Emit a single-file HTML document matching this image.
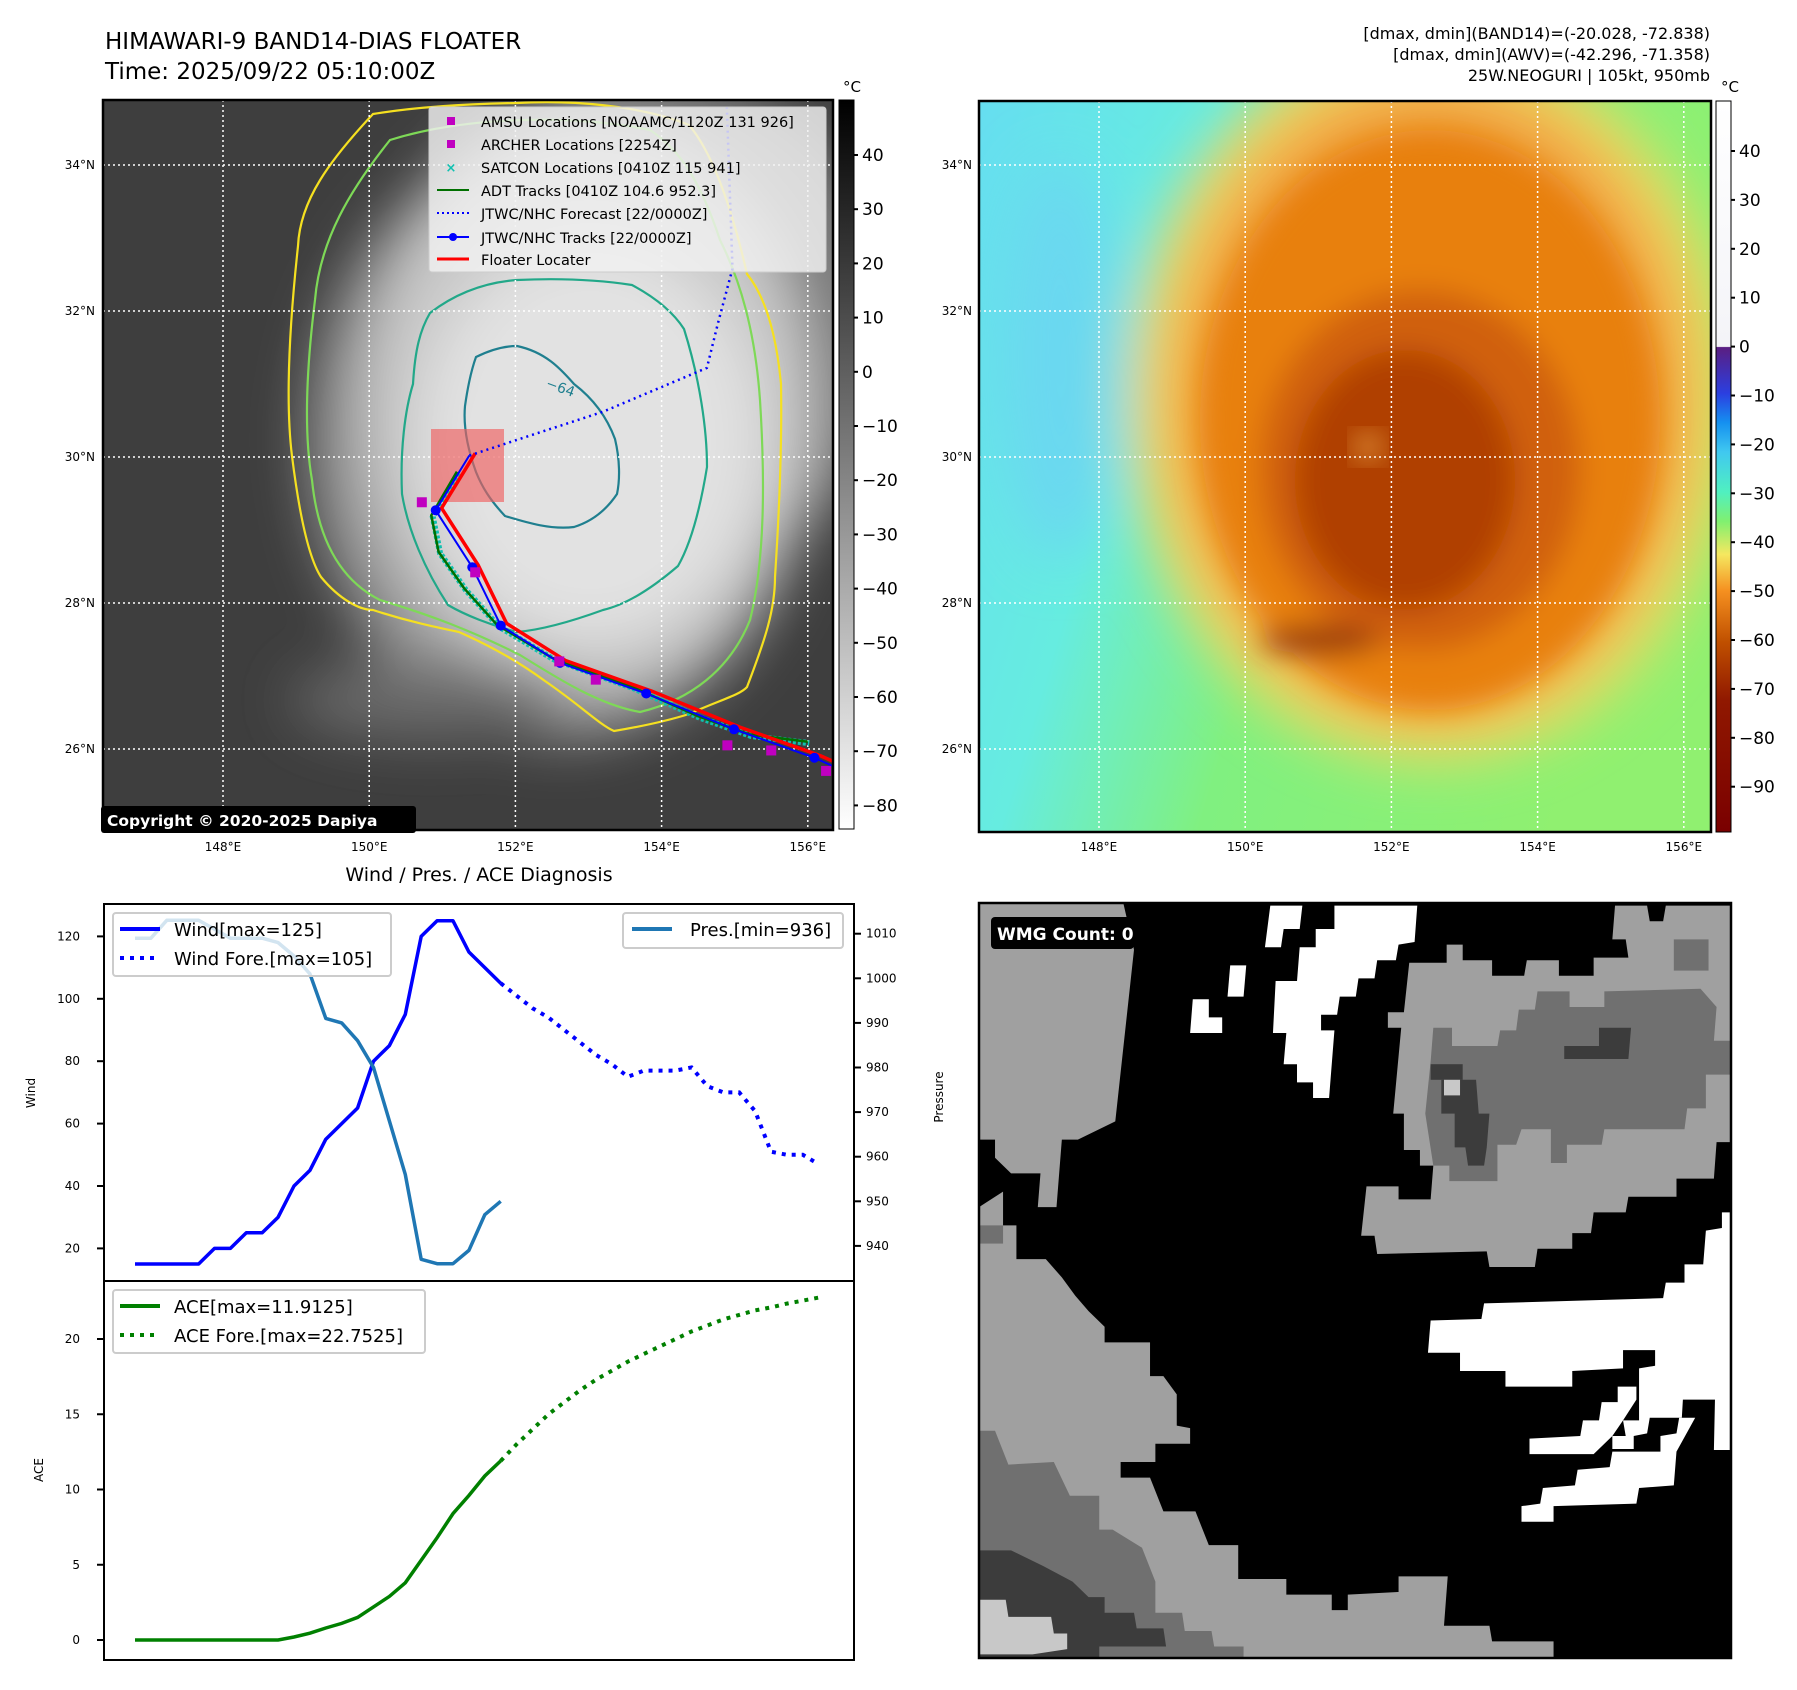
<!DOCTYPE html>
<html><head><meta charset="utf-8">
<style>
html,body{margin:0;padding:0;background:#fff;}
body{width:1797px;height:1690px;position:relative;overflow:hidden;font-family:"DejaVu Sans","Liberation Sans",sans-serif;}
svg{position:absolute;left:0;top:0;}
</style></head>
<body>
<svg id="fig" width="1797" height="1690" viewBox="0 0 1797 1690" xmlns="http://www.w3.org/2000/svg" font-family="DejaVu Sans, Liberation Sans, sans-serif">
<defs>
  <filter id="blur1" x="-30%" y="-30%" width="160%" height="160%"><feGaussianBlur stdDeviation="28"/></filter>
  <filter id="blur2" x="-30%" y="-30%" width="160%" height="160%"><feGaussianBlur stdDeviation="14"/></filter>
  <clipPath id="clip1"><rect x="103" y="100" width="730" height="730"/></clipPath>
  <clipPath id="clip2"><rect x="979" y="101" width="732" height="731"/></clipPath>
  <linearGradient id="cb1" x1="0" y1="0" x2="0" y2="1">
    <stop offset="0" stop-color="#000"/><stop offset="1" stop-color="#fff"/>
  </linearGradient>
  <linearGradient id="cb2" x1="0" y1="0" x2="0" y2="1">
    <stop offset="0" stop-color="#ffffff"/>
    <stop offset="0.336" stop-color="#f4f4f8"/>
    <stop offset="0.337" stop-color="#5a1e82"/>
    <stop offset="0.40" stop-color="#2b3fe0"/>
    <stop offset="0.44" stop-color="#1590f0"/>
    <stop offset="0.48" stop-color="#40c8f0"/>
    <stop offset="0.535" stop-color="#50f0c0"/>
    <stop offset="0.575" stop-color="#80f070"/>
    <stop offset="0.62" stop-color="#f5e860"/>
    <stop offset="0.67" stop-color="#f59020"/>
    <stop offset="0.74" stop-color="#c05000"/>
    <stop offset="0.82" stop-color="#901800"/>
    <stop offset="1" stop-color="#7a0000"/>
  </linearGradient>
  <linearGradient id="bg2" x1="0" y1="0" x2="1" y2="0.3">
    <stop offset="0" stop-color="#66def0"/><stop offset="0.3" stop-color="#66ece0"/><stop offset="0.55" stop-color="#80f080"/><stop offset="1" stop-color="#90f070"/>
  </linearGradient>
</defs>

<!-- Titles -->
<text x="105" y="49" font-size="23">HIMAWARI-9 BAND14-DIAS FLOATER</text>
<text x="105" y="79" font-size="23">Time: 2025/09/22 05:10:00Z</text>
<g font-size="16" text-anchor="end">
  <text x="1710" y="39">[dmax, dmin](BAND14)=(-20.028, -72.838)</text>
  <text x="1710" y="60">[dmax, dmin](AWV)=(-42.296, -71.358)</text>
  <text x="1710" y="81">25W.NEOGURI | 105kt, 950mb</text>
</g>

<!-- MAP 1 -->
<g clip-path="url(#clip1)">
  <rect x="103" y="100" width="730" height="730" fill="#3e3e3e"/>
  <g filter="url(#blur1)">
    <ellipse cx="640" cy="330" rx="260" ry="260" fill="#7a7a7a"/>
    <ellipse cx="560" cy="440" rx="250" ry="300" fill="#9a9a9a"/>
    <ellipse cx="590" cy="410" rx="225" ry="280" fill="#c8c8c8"/>
    <ellipse cx="590" cy="440" rx="170" ry="200" fill="#e2e2e2"/>
    <ellipse cx="430" cy="700" rx="140" ry="40" fill="#6a6a6a"/>
  </g>
  <g fill="none" stroke-width="2.2">
    <path stroke="#f5e020" d="M373,114 C330,160 300,200 298,246 C290,320 285,400 292,456 C300,520 310,560 321,577 C340,600 360,610 373,610 C410,622 440,628 459,632 C500,650 530,670 545,681 C580,705 600,725 614,731 C650,725 670,720 689,714 C720,700 740,695 747,687 C765,640 775,610 775,577 C780,500 782,440 781,384 C775,320 760,290 747,274 C730,200 710,150 689,125 C640,105 570,100 517,103 C460,104 410,108 373,114 Z"/>
    <path stroke="#7ed957" d="M390,140 C350,190 320,240 315,300 C305,380 305,440 312,480 C318,540 340,580 380,600 C430,615 470,630 520,655 C560,680 600,705 640,712 C690,700 730,670 750,620 C765,560 765,480 760,400 C755,330 740,280 720,240 C700,180 680,150 650,130 C580,115 470,115 390,140 Z"/>
    <path stroke="#22a889" d="M413,384 C415,350 420,330 430,313 C460,290 490,282 517,280 C560,278 600,280 632,285 C660,300 675,315 684,329 C700,380 707,430 707,467 C700,510 690,545 678,566 C650,590 625,605 603,610 C570,622 540,630 517,632 C490,625 465,615 448,605 C425,570 408,530 402,494 C400,450 405,410 413,384 Z"/>
    <path stroke="#1f7f8f" d="M476,357 C490,350 505,346 517,346 C545,352 560,368 574,384 C595,400 608,420 615,439 C620,460 620,480 617,494 C605,512 590,522 574,527 C550,530 525,522 505,516 C490,500 482,487 476,472 C468,450 463,428 465,406 C468,385 472,368 476,357 Z"/>
  </g>
  <text x="545" y="387" font-size="14" fill="#1f7f8f" transform="rotate(20 545 387)">−64</text>
  <g id="grid1" stroke="#fff" stroke-width="1.5" stroke-dasharray="2,3"></g>
  <rect x="431" y="429" width="73" height="73" fill="#f06060" fill-opacity="0.65"/>
  <g id="tracks1"></g>
</g>
<rect x="103" y="100" width="730" height="730" fill="none" stroke="#000" stroke-width="2.5"/>
<g id="lat1" font-size="12" text-anchor="end"></g>
<g id="lon1" font-size="12" text-anchor="middle"></g>
<g>
  <rect x="101" y="806" width="315" height="27" fill="#000" rx="3"/>
  <text x="107" y="826" font-size="15.5" font-weight="bold" fill="#fff">Copyright © 2020-2025 Dapiya</text>
</g>

<g>
  <rect x="429" y="107" width="397" height="165" fill="#f2f2f2" fill-opacity="0.82" stroke="#ccc" rx="3"/>
  <g font-size="14.5">
    <rect x="447" y="117" width="8" height="8" fill="#c000c0"/><text x="481" y="127">AMSU Locations [NOAAMC/1120Z 131 926]</text>
    <rect x="447" y="140" width="8" height="8" fill="#c000c0"/><text x="481" y="150">ARCHER Locations [2254Z]</text>
    <text x="451" y="172" font-size="13" fill="#10c0b0" text-anchor="middle" font-weight="bold">×</text><text x="481" y="173">SATCON Locations [0410Z 115 941]</text>
    <line x1="437" y1="190" x2="469" y2="190" stroke="#007000" stroke-width="2"/><text x="481" y="196">ADT Tracks [0410Z 104.6 952.3]</text>
    <line x1="437" y1="213" x2="469" y2="213" stroke="#0000ff" stroke-width="2" stroke-dasharray="2,3"/><text x="481" y="219">JTWC/NHC Forecast [22/0000Z]</text>
    <line x1="437" y1="237" x2="469" y2="237" stroke="#0000ff" stroke-width="2"/><circle cx="453" cy="237" r="4" fill="#0000ff"/><text x="481" y="243">JTWC/NHC Tracks [22/0000Z]</text>
    <line x1="437" y1="259" x2="469" y2="259" stroke="#ff0000" stroke-width="3"/><text x="481" y="265">Floater Locater</text>
  </g>
</g>

<rect x="839" y="100" width="15" height="729" fill="url(#cb1)" stroke="#000" stroke-width="1"/>
<text x="852" y="92" font-size="15" text-anchor="middle">°C</text>
<g id="cbt1" font-size="17"></g>

<!-- MAP 2 -->
<g clip-path="url(#clip2)">
  <rect x="979" y="101" width="732" height="731" fill="url(#bg2)"/>
  <g filter="url(#blur1)">
    <ellipse cx="1060" cy="360" rx="60" ry="200" fill="#6ad8f0"/>
    <ellipse cx="1430" cy="400" rx="300" ry="360" fill="#f5d860"/>
    <ellipse cx="1430" cy="400" rx="260" ry="320" fill="#f0a040"/>
  </g>
  <g filter="url(#blur2)">
    <ellipse cx="1430" cy="420" rx="230" ry="290" fill="#e8800e"/>
    <ellipse cx="1420" cy="470" rx="160" ry="180" fill="#d06008"/>
    <ellipse cx="1405" cy="480" rx="110" ry="130" fill="#b04000"/>
    <ellipse cx="1320" cy="640" rx="60" ry="14" fill="#903010"/>
  </g>
  <circle cx="1368" cy="447" r="13" fill="#f0b050" filter="url(#blur2)" opacity="0.9"/>
  <g id="grid2" stroke="#fff" stroke-width="1.5" stroke-dasharray="2,3"></g>
</g>
<rect x="979" y="101" width="732" height="731" fill="none" stroke="#000" stroke-width="2.5"/>
<g id="lat2" font-size="12" text-anchor="end"></g>
<g id="lon2" font-size="12" text-anchor="middle"></g>
<rect x="1716" y="101" width="15" height="731" fill="url(#cb2)" stroke="#000" stroke-width="1"/>
<text x="1730" y="92" font-size="15" text-anchor="middle">°C</text>
<g id="cbt2" font-size="17"></g>

<!-- Diagnosis -->
<text x="479" y="881" font-size="19" text-anchor="middle">Wind / Pres. / ACE Diagnosis</text>
<g id="diag"></g>
<rect x="104" y="904" width="750" height="377" fill="none" stroke="#000" stroke-width="2"/>
<rect x="104" y="1281" width="750" height="379" fill="none" stroke="#000" stroke-width="2"/>
<text transform="translate(35 1093) rotate(-90)" font-size="12" text-anchor="middle">Wind</text>
<text transform="translate(943 1097) rotate(-90)" font-size="12" text-anchor="middle">Pressure</text>
<text transform="translate(43 1470) rotate(-90)" font-size="12" text-anchor="middle">ACE</text>

<g>
  <rect x="113" y="913" width="278" height="63" fill="#fff" fill-opacity="0.8" stroke="#ccc" stroke-width="2" rx="3"/>
  <line x1="120" y1="929" x2="160" y2="929" stroke="#0000ff" stroke-width="4"/>
  <text x="174" y="936" font-size="18">Wind[max=125]</text>
  <line x1="120" y1="958" x2="160" y2="958" stroke="#0000ff" stroke-width="4" stroke-dasharray="4,6"/>
  <text x="174" y="965" font-size="18">Wind Fore.[max=105]</text>
</g>
<g>
  <rect x="623" y="913" width="220" height="35" fill="#fff" fill-opacity="0.8" stroke="#ccc" stroke-width="2" rx="3"/>
  <line x1="632" y1="929" x2="672" y2="929" stroke="#1f77b4" stroke-width="4"/>
  <text x="690" y="936" font-size="18">Pres.[min=936]</text>
</g>
<g>
  <rect x="113" y="1290" width="312" height="63" fill="#fff" fill-opacity="0.8" stroke="#ccc" stroke-width="2" rx="3"/>
  <line x1="120" y1="1306" x2="160" y2="1306" stroke="#008000" stroke-width="4"/>
  <text x="174" y="1313" font-size="18">ACE[max=11.9125]</text>
  <line x1="120" y1="1335" x2="160" y2="1335" stroke="#008000" stroke-width="4" stroke-dasharray="4,6"/>
  <text x="174" y="1342" font-size="18">ACE Fore.[max=22.7525]</text>
</g>

<!-- WMG -->
<svg x="979" y="903" width="752" height="755" viewBox="35 45 1407 1452" preserveAspectRatio="none">
  <rect x="35" y="45" width="1407" height="1452" fill="#000"/>
  <g fill="#a0a0a0">
    <polygon points="35,45 305,45 325,135 290,465 220,500 190,500 180,630 145,630 150,565 95,565 65,535 65,500 35,500"/>
    <polygon points="35,630 80,600 80,665 105,665 105,730 160,730 190,765 215,800 240,830 270,860 270,890 355,890 355,955 380,955 405,990 405,1050 430,1055 430,1085 365,1085 365,1120 300,1120 300,1150 355,1150 380,1215 440,1215 465,1280 520,1280 520,1345 610,1345 610,1375 695,1375 695,1405 725,1405 725,1375 820,1370 820,1340 912,1340 905,1435 990,1435 995,1465 1110,1465 1110,1497 35,1497"/>
    <polygon points="840,160 910,160 910,125 940,125 940,155 995,155 995,185 1055,185 1060,155 1120,155 1120,185 1185,185 1185,150 1250,150 1245,115 1220,115 1225,50 1285,50 1290,80 1315,80 1320,50 1442,50 1442,505 1415,505 1410,575 1340,575 1340,610 1250,610 1245,640 1185,640 1180,680 1145,680 1145,710 1080,710 1075,745 990,745 985,715 780,720 775,685 750,685 760,590 820,590 820,615 880,615 885,550 860,550 860,520 830,520 830,450 810,450 825,285 800,285 800,255 830,255"/>
  </g>
  <g fill="#707070">
    <polygon points="35,1060 65,1060 90,1125 175,1120 205,1185 260,1185 260,1250 285,1250 340,1285 365,1350 365,1410 415,1410 420,1445 470,1445 475,1475 530,1475 530,1497 35,1497"/>
    <polygon points="885,285 920,285 920,320 1005,320 1010,290 1040,290 1045,250 1075,250 1080,215 1140,215 1140,245 1205,245 1205,215 1385,210 1415,245 1410,310 1440,310 1440,375 1395,375 1395,440 1360,440 1355,480 1205,480 1200,510 1135,510 1135,545 1105,545 1105,480 1050,480 1040,510 1005,510 1005,580 915,580 915,550 885,550 870,450 880,350"/>
    <rect x="1335" y="115" width="65" height="60"/>
    <rect x="35" y="665" width="45" height="35"/>
  </g>
  <g fill="#3c3c3c">
    <polygon points="35,1290 95,1290 155,1320 210,1350 240,1380 270,1380 270,1410 325,1410 330,1440 380,1440 385,1475 260,1475 260,1497 35,1497"/>
    <rect x="880" y="355" width="60" height="30"/>
    <polygon points="900,385 965,385 970,450 990,450 985,515 980,550 950,550 945,515 925,515 925,450 900,450"/>
    <polygon points="1130,320 1195,320 1195,285 1255,285 1250,345 1130,345"/>
  </g>
  <g fill="#c8c8c8">
    <polygon points="35,1385 85,1385 90,1418 170,1418 175,1450 200,1450 200,1480 135,1490 35,1490"/>
    <rect x="905" y="385" width="30" height="30"/>
  </g>
  <g fill="#fff">
    <polygon points="580,50 640,50 635,95 605,95 600,130 570,130"/>
    <polygon points="700,50 855,50 850,120 820,125 815,155 780,155 775,190 745,190 740,225 710,225 705,260 675,260 675,290 700,290 690,420 660,420 660,390 630,390 630,355 605,355 610,295 585,295 590,195 630,195 635,130 665,130 665,95 700,95"/>
    <polygon points="505,165 535,165 530,225 500,225"/>
    <polygon points="435,230 465,230 465,265 490,265 490,295 430,295"/>
    <polygon points="980,815 1315,805 1320,775 1355,775 1355,740 1390,740 1395,675 1425,670 1425,640 1440,640 1440,1097 1410,1097 1412,1000 1352,1000 1350,1035 1290,1035 1285,1065 1260,1070 1260,1095 1220,1095 1220,1070 1245,1070 1240,1040 1270,1040 1270,940 1300,935 1300,905 1240,905 1240,940 1145,945 1145,975 1020,975 1020,945 935,945 935,910 875,910 880,848 975,845"/>
    <polygon points="1065,1075 1160,1070 1165,1040 1195,1040 1200,1005 1230,1005 1230,975 1265,975 1265,1000 1240,1040 1220,1070 1185,1105 1065,1105"/>
    <polygon points="1050,1205 1085,1200 1090,1170 1150,1165 1155,1135 1215,1130 1220,1100 1310,1100 1310,1070 1340,1065 1345,1035 1375,1035 1340,1100 1335,1165 1270,1170 1265,1200 1110,1205 1110,1235 1050,1235"/>
  </g>
</svg>
<rect x="979" y="903" width="752" height="755" fill="none" stroke="#000" stroke-width="2.5"/>
<g>
  <rect x="991" y="917" width="143" height="32" rx="4" fill="#000"/>
  <text x="997" y="940" font-size="17" font-weight="bold" fill="#fff">WMG Count: 0</text>
</g>
</svg>

<script>
// ===== Time series data (index = 3-hourly step) =====
const windObs = [15,15,15,15,15,20,20,25,25,30,40,45,55,60,65,80,85,95,120,125,125,115,110,105];
const windFcst = [105,101,97,94,90,86,82,79,75,77,77,77,78,72,70,70,64,51,50,50,47];
const presObs = [1009,1009,1013,1013,1013,1011,1009,1009,1009,1008,1005,1001,991,990,986,980,968,956,937,936,936,939,947,950];
const aceObs = [0,0,0,0,0,0,0,0,0,0,0.2,0.45,0.8,1.1,1.5,2.2,2.9,3.8,5.3,6.8,8.4,9.6,10.9,11.9];
const aceFcst = [11.9,13.0,14.0,15.0,15.8,16.6,17.3,17.9,18.5,19.0,19.5,20.0,20.5,20.9,21.3,21.6,21.9,22.1,22.35,22.55,22.75];
const windTicks = [20,40,60,80,100,120];
const presTicks = [940,950,960,970,980,990,1000,1010];
const aceTicks = [0,5,10,15,20];

// ===== Map data =====
const latTicks = [26,28,30,32,34];
const lonTicks = [148,150,152,154,156];
const jtwcLon = [151.37,150.91,151.41,151.80,152.61,153.79,154.99,156.09,156.4];
const jtwcLat = [30.02,29.27,28.49,27.69,27.18,26.76,26.27,25.88,25.74];
const fcstLon = [151.37,153.2,154.62,154.77,154.97,154.89];
const fcstLat = [30.02,30.62,31.22,31.83,32.58,34.85];
const adtLon = [151.2,150.85,150.95,151.3,151.75,152.5,153.6,154.5,155.2,156.0];
const adtLat = [29.8,29.2,28.7,28.2,27.7,27.25,26.85,26.45,26.2,26.1];
const amsuLon = [150.72,151.45,152.6,153.1,154.9,155.5,156.25];
const amsuLat = [29.38,28.42,27.2,26.95,26.05,25.98,25.7];
const cbTicks1 = [40,30,20,10,0,-10,-20,-30,-40,-50,-60,-70,-80];
const cbTicks2 = [40,30,20,10,0,-10,-20,-30,-40,-50,-60,-70,-80,-90];

const NS = 'http://www.w3.org/2000/svg';
function mk(tag, attrs, parent){const e=document.createElementNS(NS,tag);for(const k in attrs)e.setAttribute(k,attrs[k]);parent.appendChild(e);return e;}
function fmt(v){return v<0?'\u2212'+Math.abs(v):String(v);}

const xT = i => 135 + i*15.9;
const yW = w => 936.4 + (120-w)*3.12;
const yP = p => 933.7 + (1010-p)*4.46;
const yA = a => 1640 - a*15.05;
const lonX1 = lon => 223 + (lon-148)*73.1;
const lonX2 = lon => lonX1(lon) + 876;
const latY = lat => 457 - (lat-30)*73;
const cb1Y = v => 155 + (40-v)*5.42;
const cb2Y = v => 151 + (40-v)*4.89;

const diag = document.getElementById('diag');
function poly(xs, ys, attrs, name){
  const pts = xs.map((x,k)=>x.toFixed(1)+','+ys[k].toFixed(1)).join(' ');
  const p = mk('polyline', Object.assign({points:pts, fill:'none'}, attrs), diag);
  
  
  return p;
}
poly(windObs.map((v,i)=>xT(i)), windObs.map(yW), {stroke:'#0000ff','stroke-width':3.5,'stroke-linejoin':'round'}, 'wind-line');
poly(windFcst.map((v,i)=>xT(i+23)), windFcst.map(yW), {stroke:'#0000ff','stroke-width':4,'stroke-dasharray':'4,6'}, 'wind-forecast-line');
poly(presObs.map((v,i)=>xT(i)), presObs.map(yP), {stroke:'#1f77b4','stroke-width':3.5,'stroke-linejoin':'round'}, 'pressure-line');
poly(aceObs.map((v,i)=>xT(i)), aceObs.map(yA), {stroke:'#008000','stroke-width':3.5}, 'ace-line');
poly(aceFcst.map((v,i)=>xT(i+23)), aceFcst.map(yA), {stroke:'#008000','stroke-width':4,'stroke-dasharray':'4,6'}, 'ace-forecast-line');

function tick(x1,y1,x2,y2,lx,ly,txt,anchor,name,parent,fs){
  const g = mk('g',{},parent);
  
  
  if(x1!==null) mk('line',{x1:x1,y1:y1,x2:x2,y2:y2,stroke:'#000','stroke-width':2},g);
  const t = mk('text',{x:lx,y:ly,'font-size':fs||12,'text-anchor':anchor},g);
  t.textContent = txt;
}
windTicks.forEach(v=>tick(97,yW(v),104,yW(v),80,yW(v)+4,String(v),'end','wind-tick',diag));
presTicks.forEach(v=>tick(854,yP(v),861,yP(v),866,yP(v)+4,String(v),'start','pressure-tick',diag));
aceTicks.forEach(v=>tick(97,yA(v),104,yA(v),80,yA(v)+4,String(v),'end','ace-tick',diag));

const g1 = document.getElementById('grid1'), g2 = document.getElementById('grid2');
lonTicks.forEach(l=>{
  const a = mk('line',{x1:lonX1(l),y1:100,x2:lonX1(l),y2:830},g1);
   
  const b = mk('line',{x1:lonX2(l),y1:101,x2:lonX2(l),y2:832},g2);
   
});
latTicks.forEach(l=>{
  const a = mk('line',{x1:103,y1:latY(l),x2:833,y2:latY(l)},g1);
   
  const b = mk('line',{x1:979,y1:latY(l),x2:1711,y2:latY(l)},g2);
   
});
const lat1=document.getElementById('lat1'), lat2=document.getElementById('lat2'), lon1=document.getElementById('lon1'), lon2=document.getElementById('lon2');
latTicks.forEach(l=>{
  tick(null,0,0,0,95,latY(l)+4,l+'\u00b0N','end','lat-label',lat1);
  tick(null,0,0,0,972,latY(l)+4,l+'\u00b0N','end','lat-label',lat2);
});
lonTicks.forEach(l=>{
  tick(null,0,0,0,lonX1(l),851,l+'\u00b0E','middle','lon-label',lon1);
  tick(null,0,0,0,lonX2(l),851,l+'\u00b0E','middle','lon-label',lon2);
});
const c1=document.getElementById('cbt1'), c2=document.getElementById('cbt2');
cbTicks1.forEach(v=>tick(854,cb1Y(v),858,cb1Y(v),862,cb1Y(v)+6,fmt(v),'start','colorbar-tick',c1,17));
cbTicks2.forEach(v=>tick(1731,cb2Y(v),1735,cb2Y(v),1739,cb2Y(v)+6,fmt(v),'start','colorbar-tick',c2,17));

const tr = document.getElementById('tracks1');
function mpoly(lons,lats,attrs,name){
  const pts = lons.map((l,k)=>lonX1(l).toFixed(1)+','+latY(lats[k]).toFixed(1)).join(' ');
  const p = mk('polyline',Object.assign({points:pts,fill:'none'},attrs),tr);
  
  
}
mpoly(adtLon.map(v=>v+0.02),adtLat.map(v=>v-0.02),{stroke:'#10c0b0','stroke-width':6,'stroke-dasharray':'3,2'},'satcon-track');
mpoly(adtLon,adtLat,{stroke:'#007000','stroke-width':2.5},'adt-track');
mpoly(jtwcLon.map(v=>v+0.08),jtwcLat.map(v=>v+0.03),{stroke:'#ff0000','stroke-width':3.5},'floater-track');
mpoly(jtwcLon,jtwcLat,{stroke:'#0000ff','stroke-width':2},'jtwc-track');
mpoly(fcstLon,fcstLat,{stroke:'#0000ff','stroke-width':2.5,'stroke-dasharray':'2,4'},'jtwc-forecast-track');
jtwcLon.slice(1,8).forEach((l,k)=>{
  const c = mk('circle',{cx:lonX1(l),cy:latY(jtwcLat[k+1]),r:5,fill:'#0000ff'},tr);
  
  
});
amsuLon.forEach((l,k)=>{
  const r = mk('rect',{x:lonX1(l)-5,y:latY(amsuLat[k])-5,width:10,height:10,fill:'#c000c0'},tr);
  
  
});
</script>
</body></html>
